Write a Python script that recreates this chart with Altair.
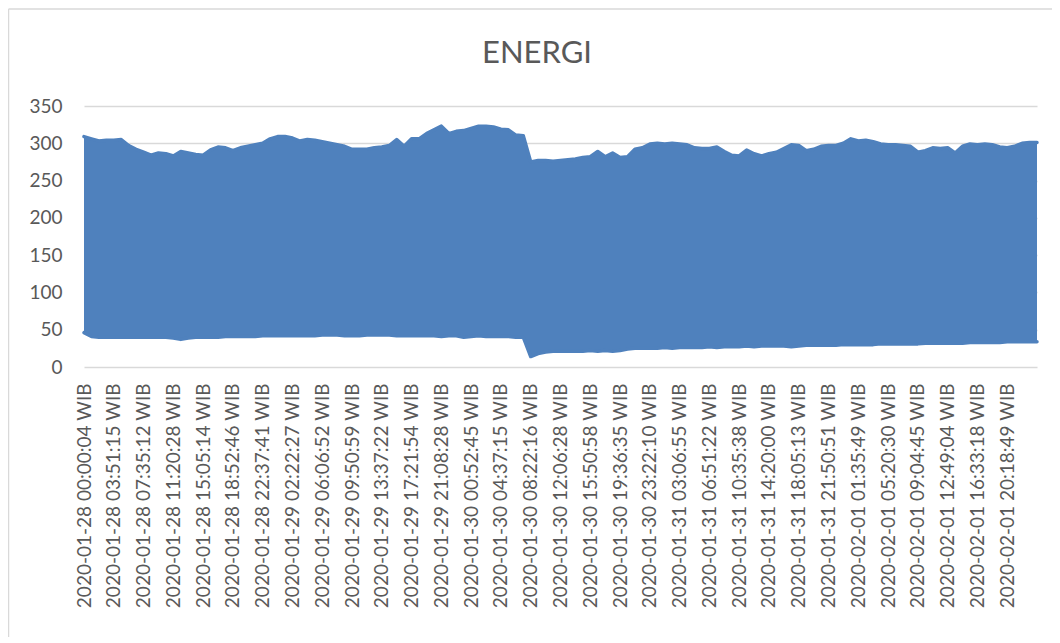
import json
import altair as alt
import pandas as pd

# Category labels on the horizontal axis (one every label interval)
labels = [
    "2020-01-28 00:00:04 WIB", "2020-01-28 03:51:15 WIB", "2020-01-28 07:35:12 WIB",
    "2020-01-28 11:20:28 WIB", "2020-01-28 15:05:14 WIB", "2020-01-28 18:52:46 WIB",
    "2020-01-28 22:37:41 WIB", "2020-01-29 02:22:27 WIB", "2020-01-29 06:06:52 WIB",
    "2020-01-29 09:50:59 WIB", "2020-01-29 13:37:22 WIB", "2020-01-29 17:21:54 WIB",
    "2020-01-29 21:08:28 WIB", "2020-01-30 00:52:45 WIB", "2020-01-30 04:37:15 WIB",
    "2020-01-30 08:22:16 WIB", "2020-01-30 12:06:28 WIB", "2020-01-30 15:50:58 WIB",
    "2020-01-30 19:36:35 WIB", "2020-01-30 23:22:10 WIB", "2020-01-31 03:06:55 WIB",
    "2020-01-31 06:51:22 WIB", "2020-01-31 10:35:38 WIB", "2020-01-31 14:20:00 WIB",
    "2020-01-31 18:05:13 WIB", "2020-01-31 21:50:51 WIB", "2020-02-01 01:35:49 WIB",
    "2020-02-01 05:20:30 WIB", "2020-02-01 09:04:45 WIB", "2020-02-01 12:49:04 WIB",
    "2020-02-01 16:33:18 WIB", "2020-02-01 20:18:49 WIB",
]

# Upper envelope of the ENERGI series (peaks), read every quarter label interval
high = [309, 306, 303, 304, 304, 305, 297, 292, 288, 284,
        287, 286, 283, 289, 287, 285, 284, 291, 295, 294,
        290, 294, 296, 298, 300, 306, 309, 309, 307, 303,
        305, 304, 302, 300, 298, 296, 292, 292, 292, 294,
        295, 297, 305, 296, 306, 306, 313, 318, 323, 313,
        316, 317, 320, 323, 323, 322, 319, 318, 311, 310,
        275, 277, 277, 276, 277, 278, 279, 281, 282, 289,
        282, 287, 281, 282, 292, 294, 299, 300, 299, 300,
        299, 298, 294, 293, 293, 295, 289, 284, 283, 291,
        286, 283, 286, 288, 293, 298, 297, 290, 292, 296,
        297, 297, 300, 306, 303, 304, 302, 299, 298, 298,
        297, 296, 288, 290, 294, 293, 294, 287, 296, 299,
        298, 299, 298, 295, 294, 296, 300, 301, 301]

# Lower envelope of the ENERGI series (troughs), read every quarter label interval
low = [46, 41, 40, 40, 40, 40, 40, 40, 40, 40,
       40, 40, 39, 37, 39, 40, 40, 40, 40, 41,
       41, 41, 41, 41, 42, 42, 42, 42, 42, 42,
       42, 42, 43, 43, 43, 42, 42, 42, 43, 43,
       43, 43, 42, 42, 42, 42, 42, 42, 41, 42,
       42, 40, 41, 42, 41, 41, 41, 41, 40, 40,
       14, 18, 20, 21, 21, 21, 21, 21, 22, 21,
       22, 21, 22, 24, 25, 25, 25, 25, 26, 25,
       26, 26, 26, 26, 27, 26, 27, 27, 27, 28,
       27, 28, 28, 28, 28, 27, 28, 29, 29, 29,
       29, 29, 30, 30, 30, 30, 30, 31, 31, 31,
       31, 31, 31, 32, 32, 32, 32, 32, 32, 33,
       33, 33, 33, 33, 34, 34, 34, 34, 34]

# Sample positions, in label intervals (every quarter interval)
position = [k * 0.25 for k in range(len(high))]

y_ticks = [0, 50, 100, 150, 200, 250, 300, 350]
title_text = "ENERGI"

df = pd.DataFrame({"t": position, "high": high, "low": low})

BLUE = "#4F81BD"
TEXT = "#595959"
FONT = "Lato"

x_scale = alt.Scale(domain=[0, 32], nice=False, zero=False)
y_scale = alt.Scale(domain=[0, 350], nice=False)

x_axis = alt.Axis(
    values=list(range(len(labels))),
    labelExpr=json.dumps(labels) + "[datum.value]",
    grid=False, domain=False, ticks=False,
    labelAngle=270, labelAlign="right", labelBaseline="middle",
    labelPadding=16, labelFontSize=19, labelFont=FONT, labelColor=TEXT,
    labelOverlap=False, labelFlush=False, labelLimit=400, title=None,
)
y_axis = alt.Axis(
    values=y_ticks, grid=True, gridColor="#D9D9D9", gridWidth=1.3,
    domain=False, ticks=False, labelPadding=22, labelFontSize=19,
    labelFont=FONT, labelColor=TEXT, labelOverlap=False, labelFlush=False,
    title=None,
)

base = alt.Chart(df)
area = base.mark_area(color=BLUE, opacity=1).encode(
    x=alt.X("t:Q", scale=x_scale, axis=x_axis),
    y=alt.Y("high:Q", scale=y_scale, axis=y_axis),
    y2="low:Q",
)
upper = base.mark_line(color=BLUE, strokeWidth=3.5, strokeJoin="round", strokeCap="round").encode(
    x=alt.X("t:Q", scale=x_scale, axis=x_axis),
    y=alt.Y("high:Q", scale=y_scale, axis=y_axis),
)
lower = base.mark_line(color=BLUE, strokeWidth=3.5, strokeJoin="round", strokeCap="round").encode(
    x=alt.X("t:Q", scale=x_scale, axis=x_axis),
    y=alt.Y("low:Q", scale=y_scale, axis=y_axis),
)

one = alt.Chart(pd.DataFrame({"title": [title_text]}))
border_left = one.mark_rule(color="#D9D9D9", strokeWidth=1.5).encode(
    x=alt.value(-75.5), y=alt.value(-97), y2=alt.value(540))
border_top = one.mark_rule(color="#D9D9D9", strokeWidth=1.5).encode(
    x=alt.value(-75.5), x2=alt.value(975), y=alt.value(-97))
title = one.mark_text(
    font=FONT, fontSize=31, color=TEXT, align="center", baseline="alphabetic"
).encode(text="title:N", x=alt.value(453), y=alt.value(-43))

chart = alt.layer(border_left, border_top, area, upper, lower, title).properties(
    width=953,
    height=261,
    autosize=alt.AutoSizeParams(type="none"),
    padding={"left": 76, "top": 98, "right": 15, "bottom": 270},
).configure_view(strokeWidth=0)

chart.save("out.html", embed_options={"renderer": "svg", "actions": False})
